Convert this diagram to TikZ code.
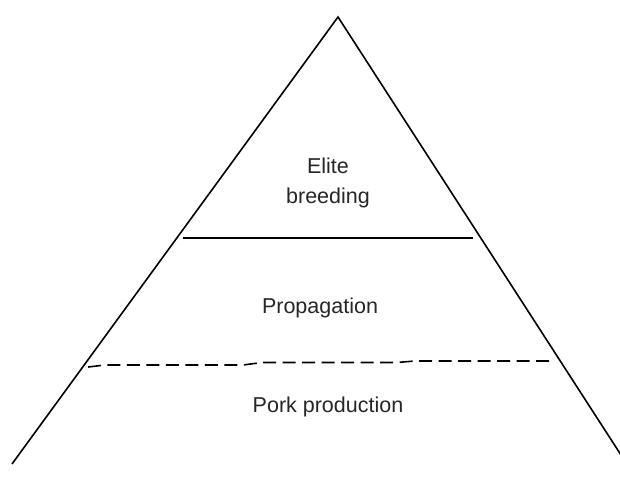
\documentclass[tikz,border=0pt]{standalone}
\usepackage{fontspec}
\setmainfont{Liberation Sans}
\begin{document}
\begin{tikzpicture}[x=1pt,y=-1pt,
  edge/.style={line width=1.6pt,line join=miter},
  lbl/.style={font=\fontsize{21.5}{28}\selectfont, inner sep=0pt, anchor=base, text=black!85}]
\useasboundingbox (0,0) rectangle (620,476);
\coordinate (apex) at (338,17);
\coordinate (bl) at (12,464);
\coordinate (br) at (621,455);
\draw[edge] (bl) -- (apex) -- (br);
\coordinate (s1) at (183,238);
\coordinate (s2) at (473,238);
\draw[edge] (s1) -- (s2);
\coordinate (d1) at (88,367);
\coordinate (d2) at (550,361);
\draw[line width=1.6pt, dash pattern=on 13pt off 6.5pt]
  (d1) -- (105,365) -- (243,365) -- (262,362.5) -- (397,362.5) -- (415,361) -- (d2);
\node[lbl] (elite) at (328,173) {Elite};
\node[lbl] (breed) at (328,203) {breeding};
\node[lbl] (prop) at (320,313) {Propagation};
\node[lbl] (pork) at (328,412) {Pork production};
\end{tikzpicture}
\end{document}
